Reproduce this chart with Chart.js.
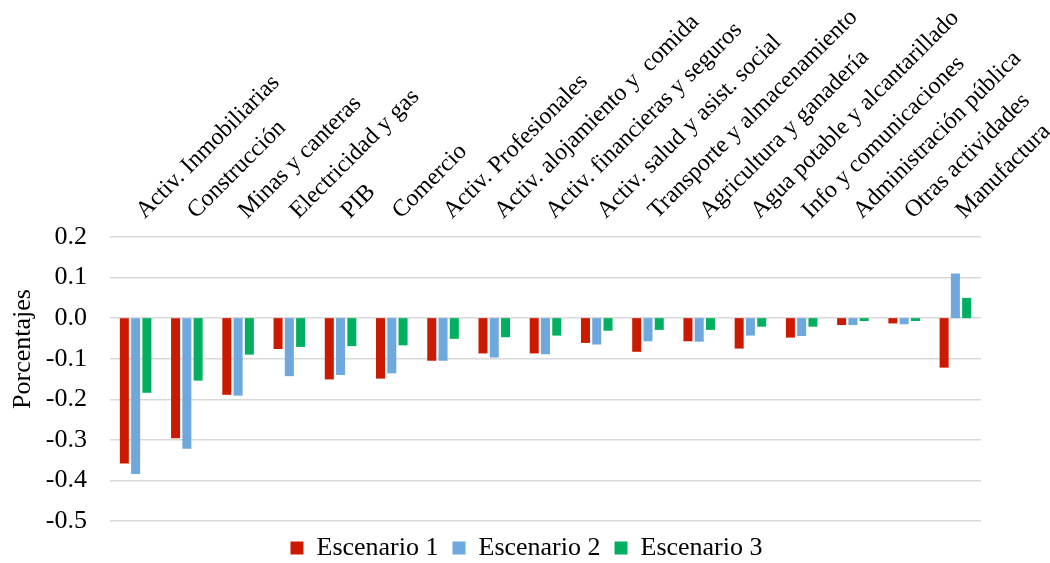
<!DOCTYPE html>
<html>
<head>
<meta charset="utf-8">
<script src="https://cdn.jsdelivr.net/npm/chart.js@4/dist/chart.umd.min.js"></script>
<style>
  html, body { margin: 0; padding: 0; background: #ffffff; }
  #wrap { width: 1050px; height: 563px; position: relative; }
</style>
</head>
<body>
<div id="wrap"><canvas id="chart"></canvas></div>
<script>
// Sectores económicos
const categories = [
  "Activ. Inmobiliarias", "Construcción", "Minas y canteras", "Electricidad y gas",
  "PIB", "Comercio", "Activ. Profesionales", "Activ. alojamiento y  comida",
  "Activ. financieras y seguros", "Activ. salud y asist. social",
  "Transporte y almacenamiento", "Agricultura y ganadería",
  "Agua potable y alcantarillado", "Info y comunicaciones",
  "Administración pública", "Otras actividades", "Manufactura"
];

// Variación por escenario (porcentajes)
const escenario1 = [-0.358, -0.296, -0.189, -0.076, -0.151, -0.149, -0.105, -0.087,
  -0.087, -0.061, -0.083, -0.057, -0.075, -0.048, -0.017, -0.013, -0.122];
const escenario2 = [-0.384, -0.322, -0.191, -0.143, -0.140, -0.136, -0.105, -0.097,
  -0.089, -0.065, -0.057, -0.058, -0.043, -0.044, -0.017, -0.015, 0.110];
const escenario3 = [-0.184, -0.154, -0.090, -0.071, -0.069, -0.067, -0.051, -0.047,
  -0.043, -0.031, -0.029, -0.029, -0.021, -0.021, -0.007, -0.007, 0.050];

const seriesNames = ["Escenario 1", "Escenario 2", "Escenario 3"];
const seriesColors = ["#CC1A00", "#6FA8DC", "#00B060"];

const yTicks = { min: -0.5, max: 0.2, step: 0.1 };
const axisTitle = "Porcentajes";

const serif = "'Liberation Serif', 'Times New Roman', serif";

// Título vertical del eje Y
const yTitlePlugin = {
  id: 'yTitle',
  afterDraw(chart) {
    const ctx = chart.ctx;
    ctx.save();
    ctx.translate(23, 349);
    ctx.rotate(-Math.PI / 2);
    ctx.font = "26px " + serif;
    ctx.fillStyle = "#000";
    ctx.textAlign = "center";
    ctx.textBaseline = "middle";
    ctx.fillText(axisTitle, 0, 0);
    ctx.restore();
  }
};

const data = {
  labels: categories,
  datasets: [escenario1, escenario2, escenario3].map((vals, i) => ({
    label: seriesNames[i],
    data: vals,
    backgroundColor: seriesColors[i],
    borderWidth: 0,
    categoryPercentage: 0.66,
    barPercentage: 0.8
  }))
};

const leftPad = 72;   // shifts the centred legend to the right
const plotLeft = 110; // left edge of the plotting area

new Chart(document.getElementById('chart'), {
  type: 'bar',
  data,
  plugins: [yTitlePlugin],
  options: {
    responsive: true,
    maintainAspectRatio: false,
    animation: false,
    layout: { padding: { left: leftPad, right: 69, top: 0, bottom: -8 } },
    plugins: {
      legend: {
        position: 'bottom',
        labels: {
          boxWidth: 13,
          boxHeight: 13,
          padding: 14,
          color: '#000',
          font: { family: serif, size: 26 }
        }
      },
      tooltip: { enabled: false }
    },
    scales: {
      x: {
        position: 'top',
        grid: { display: false, drawTicks: false },
        border: { display: false },
        ticks: {
          autoSkip: false,
          minRotation: 45,
          maxRotation: 45,
          padding: 12,
          labelOffset: 25,
          color: '#000',
          font: { family: serif, size: 24 }
        },
        afterFit(scale) {
          scale.height = 237;
          scale.paddingLeft = 0;
          scale.paddingRight = 0;
        }
      },
      y: {
        min: yTicks.min,
        max: yTicks.max,
        grid: { color: '#d9d9d9', lineWidth: 1.5, drawTicks: false },
        border: { display: false },
        ticks: {
          stepSize: yTicks.step,
          padding: 23,
          color: '#000',
          font: { family: serif, size: 26 },
          callback: (v) => (Math.abs(v) < 1e-9 ? 0 : v).toFixed(1)
        },
        afterFit(scale) {
          scale.width = plotLeft - leftPad;
          // tick labels reach past the narrow axis box; let them draw unclipped
          scale._computeLabelArea = () => undefined;
        }
      }
    }
  }
});
</script>
</body>
</html>
